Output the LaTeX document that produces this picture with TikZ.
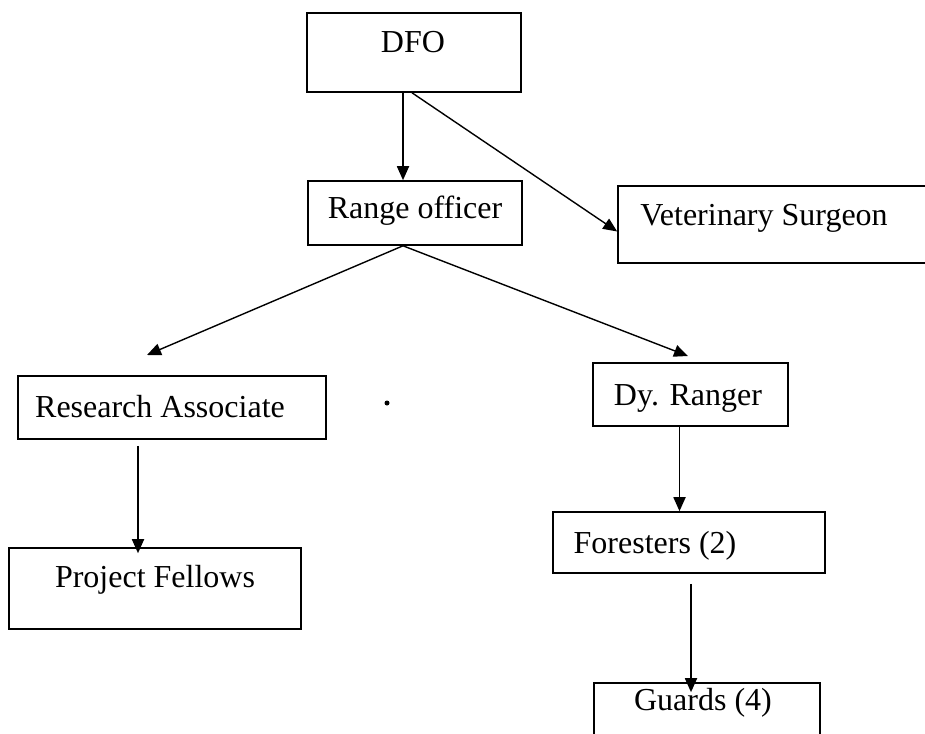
\documentclass[tikz,border=0pt]{standalone}
\usepackage{fontspec}
\setmainfont{Liberation Serif}
\usetikzlibrary{arrows.meta,fit}

\begin{document}
\begin{tikzpicture}[x=0.5pt,y=-0.5pt,
    box/.style={draw,line width=0.8pt,inner sep=0pt},
    arr/.style={-{Triangle[length=7pt,width=6pt]},line width=0.7pt}]
  \useasboundingbox (0,0) rectangle (925,733);
  \begin{scope}
    \fontsize{16}{19}\selectfont
    % boxes
    \node[box,fit={(307,13) (521,92)}] (dfo) {};
    \node[box,fit={(308,181) (522,245)}] (ro) {};
    \node[box,fit={(618,186) (930,263)}] (vet) {};
    \node[box,fit={(18,376) (326,439)}] (ra) {};
    \node[box,fit={(593,363) (788,426)}] (dy) {};
    \node[box,fit={(553,512) (825,573)}] (fo) {};
    \node[box,fit={(9,548) (301,629)}] (pf) {};
    \node[box,fit={(594,683) (820,745)}] (gu) {};

    % texts
    \node[anchor=base] (dfo-t) at (413,53) {DFO};
    \node[anchor=base] (ro-t) at (415,218) {Range officer};
    \node[anchor=base] (vet-t) at (764,225) {Veterinary Surgeon};
    \node[anchor=base] (ra-t) at (160,417) {Research Associate};
    \node[anchor=base] (dy-t) at (688,405) {Dy. Ranger};
    \node[anchor=base] (fo-t) at (655,553) {Foresters (2)};
    \node[anchor=base] (pf-t) at (155,587) {Project Fellows};
    \node[anchor=base] (gu-t) at (703,710) {Guards (4)};

    \fill (387,403) circle (2.5);

    % connectors
    \coordinate (ra-in) at (147,355);
    \coordinate (dy-in) at (688,356);
    \draw[arr,line width=0.9pt] ([xshift=-5.5pt]dfo.south) -- ([xshift=-5.5pt]dfo.south |- ro.north);
    \draw[arr] ([xshift=-1pt]dfo.south) -- ([yshift=-3.5pt]vet.west);
    \draw[arr] ([xshift=-6pt]ro.south) -- (ra-in);
    \draw[arr] ([xshift=-6pt]ro.south) -- (dy-in);
    \draw[arr,line width=0.9pt] ([xshift=-17pt,yshift=-3pt]ra.south) -- ([xshift=-17pt,yshift=-3pt]ra.south |- pf.north);
    \draw[arr,line width=0.9pt] ([xshift=-5.5pt]dy.south) -- ([xshift=-5.5pt]dy.south |- fo.north);
    \draw[arr,line width=0.9pt] ([xshift=1pt,yshift=-5pt]fo.south) -- ([xshift=1pt,yshift=-5pt]fo.south |- gu.north);
  \end{scope}
\end{tikzpicture}
\end{document}
